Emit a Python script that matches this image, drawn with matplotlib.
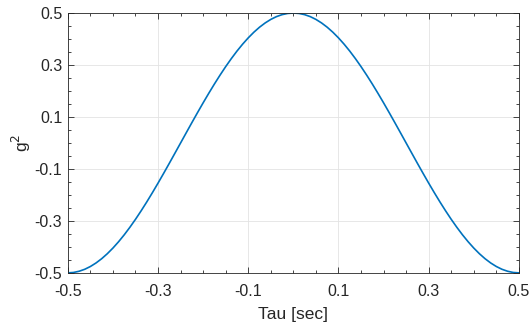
import numpy as np
import matplotlib
matplotlib.use("Agg")
from matplotlib import pyplot as plt
from matplotlib.ticker import MultipleLocator

# values, tau step 0.0125 from -0.5 to 0.5
tau = np.linspace(-0.5, 0.5, 81)
g2 = [-0.5, -0.4985, -0.4938, -0.4862, -0.4755, -0.4619, -0.4455, -0.4263, -0.4045, -0.3802,
      -0.3536, -0.3247, -0.2939, -0.2612, -0.2270, -0.1913, -0.1545, -0.1167, -0.0782, -0.0392,
      0.0, 0.0392, 0.0782, 0.1167, 0.1545, 0.1913, 0.2270, 0.2612, 0.2939, 0.3247,
      0.3536, 0.3802, 0.4045, 0.4263, 0.4455, 0.4619, 0.4755, 0.4862, 0.4938, 0.4985,
      0.5,
      0.4985, 0.4938, 0.4862, 0.4755, 0.4619, 0.4455, 0.4263, 0.4045, 0.3802, 0.3536,
      0.3247, 0.2939, 0.2612, 0.2270, 0.1913, 0.1545, 0.1167, 0.0782, 0.0392, 0.0,
      -0.0392, -0.0782, -0.1167, -0.1545, -0.1913, -0.2270, -0.2612, -0.2939, -0.3247, -0.3536,
      -0.3802, -0.4045, -0.4263, -0.4455, -0.4619, -0.4755, -0.4862, -0.4938, -0.4985, -0.5]
ticks = [-0.5, -0.3, -0.1, 0.1, 0.3, 0.5]
tickLabels = ["-0.5", "-0.3", "-0.1", "0.1", "0.3", "0.5"]

plt.rcParams['font.family'] = ['Liberation Sans', 'DejaVu Sans']

fig = plt.figure(figsize=(5.3, 3.26), dpi=100)
ax = fig.add_axes([0.128, 0.163, 0.851, 0.797])
ax.plot(tau, g2, color="#0072bd", linewidth=1.2)

ax.set_xlim(-0.5, 0.5)
ax.set_ylim(-0.5, 0.5)
ax.set_xticks(ticks)
ax.set_xticklabels(tickLabels)
ax.set_yticks(ticks)
ax.set_yticklabels(tickLabels)
ax.xaxis.set_minor_locator(MultipleLocator(0.05))
ax.yaxis.set_minor_locator(MultipleLocator(0.05))
ax.tick_params(which="both", direction="in", top=True, right=True,
               colors="#262626", labelsize=11.5, labelcolor="#262626")
ax.tick_params(which="major", length=4, width=0.6)
ax.tick_params(which="minor", length=2.5, width=0.6)
ax.tick_params(axis="x", which="major", pad=8)
ax.tick_params(axis="y", which="major", pad=4)
ax.grid(True, which="major", color="#e3e3e3", linewidth=0.6)
for s in ax.spines.values():
    s.set_color("#262626")
    s.set_linewidth(0.6)

ax.set_xlabel("Tau [sec]", fontsize=12.5, color="#262626", labelpad=6)
ax.set_ylabel("g$^2$", fontsize=12.5, color="#262626", labelpad=1)

fig.savefig("out.png", dpi=100)
